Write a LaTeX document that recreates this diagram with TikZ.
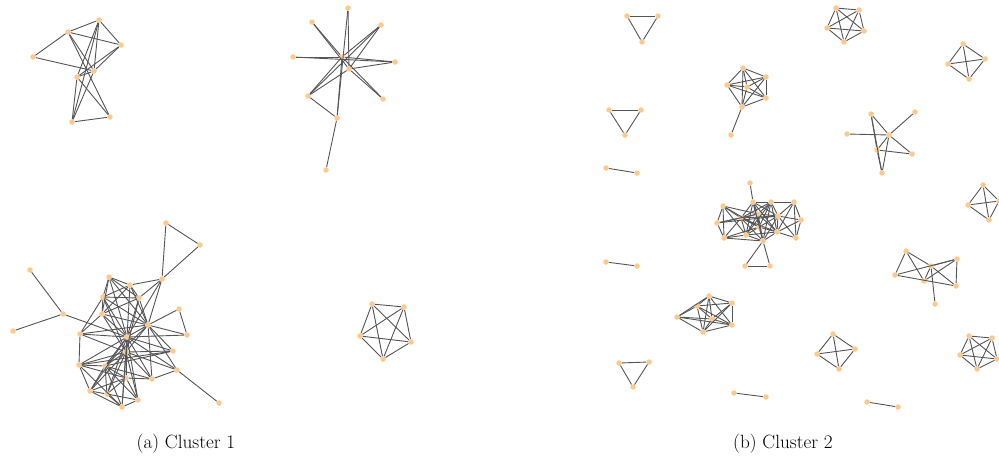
\documentclass[tikz,border=0pt]{standalone}
\usepackage{fontspec}
\begin{document}
\begin{tikzpicture}[x=1pt,y=-1pt,
  vtx/.style={circle,fill=vfill,draw=none,inner sep=0pt,minimum size=5.5pt},
  edge/.style={draw=edgecol,line width=0.9pt},
  captext/.style={font=\fontsize{19.2}{22}\selectfont,inner sep=0pt,anchor=base}]
\definecolor{vfill}{RGB}{255,201,142}
\definecolor{edgecol}{RGB}{85,85,85}
\useasboundingbox (0,0) rectangle (999,474);
% ---------------- Cluster 1 ----------------
\foreach \n/\x/\y in {a1/99/20,a2/68/32,a3/121/45,a4/33/57,a5/94/71,a6/77/77,a7/110/117,a8/72/122,
  b1/348/8,b2/312/22,b3/381/25,b4/342/57,b5/395/62,b6/349/69,b7/308/96,b8/383/99,b9/337/118,b10/326/170,bl/293/57,
  e1/372/304,e2/404/307,e3/360/336,e4/411/342,e5/383/359,
  c0/13/331,c1/30/270,c2/63/314,t1/166/223,t2/200/245,
  d1/109/277,d2/130/285,d3/162/279,d4/103/297,d5/139/298,d7/102/314,d8/179/309,d9/148/325,d10/80/334,
  d11/187/335,d12/127/337,d13/126/352,d14/173/351,d15/79/365,d16/105/366,d17/177/370,d18/126/378,
  d19/152/379,d20/90/391,d21/107/394,d22/138/400,d23/122/407,d24/219/403}
  \node[vtx] (\n) at (\x,\y) {};
\foreach \a/\b in {a1/a2,a1/a3,a2/a3,a2/a4,a4/a5,a1/a5,a1/a6,a3/a5,a3/a6,a2/a7,a2/a5,a5/a6,a5/a8,a6/a7,a6/a8,a7/a8,a1/a8,
  b1/b6,b1/b9,b2/b4,b4/b8,b2/b6,b3/b4,b3/b7,b3/b6,b5/b4,b5/b6,bl/b4,bl/b5,b6/b7,b6/b8,b7/b4,b7/b9,b4/b9,b9/b10,
  e1/e2,e1/e3,e1/e4,e1/e5,e2/e3,e2/e4,e2/e5,e3/e4,e3/e5,e4/e5,
  c1/c2,c0/c2,c2/d12,t1/t2,t1/d3,t2/d3,
  d1/d2,d1/d4,d1/d5,d1/d12,d1/d9,d1/d7,d2/d3,d2/d4,d2/d5,d2/d12,d2/d9,d2/d7,d3/d9,d3/d12,d3/d5,
  d4/d5,d4/d7,d4/d10,d4/d12,d4/d13,d4/d9,d5/d9,d5/d12,d5/d13,d5/d7,d7/d10,d7/d12,d7/d9,d7/d13,
  d8/d9,d8/d11,d9/d11,d9/d12,d9/d13,d9/d14,d9/d17,d9/d19,d9/d16,d9/d10,d10/d12,d10/d13,d10/d15,
  d11/d12,d12/d13,d12/d14,d12/d15,d12/d16,d12/d18,d12/d19,d12/d20,d12/d21,d12/d22,d12/d23,d12/d17,
  d13/d14,d13/d15,d13/d16,d13/d18,d13/d19,d13/d20,d13/d21,d13/d22,d13/d23,d14/d15,d14/d16,
  d15/d16,d15/d20,d15/d18,d15/d23,d16/d18,d16/d20,d16/d21,d16/d22,d16/d23,d16/d19,
  d17/d24,d17/d19,d17/d13,d18/d19,d18/d21,d18/d20,d18/d22,d20/d21,d20/d23,d21/d23,d21/d22,d22/d23}
  \draw[edge] (\a) -- (\b);
% ---------------- Cluster 2 ----------------
\foreach \n/\x/\y in {f1/627/16,f2/658/16,f3/642/42,g1/609/110,g2/641/110,g3/625/135,
  h1/743/68,h2/766/77,h3/727/85,h4/747/87,h5/766/98,h6/742/107,h7/731/135,
  i1/836/8,i2/859/10,i3/827/28,i4/864/31,i5/844/42,
  j1/963/44,j2/985/59,j3/948/64,j4/969/79,
  s1/915/112,s2/871/114,s3/847/134,s4/889/135,s5/877/150,s6/912/154,s7/882/173,
  p1/606/168,p2/637/173,q1/606/262,q2/637/266,
  r1/750/183,r2/753/202,r3/771/202,r4/794/202,r5/723/206,r6/758/214,r7/778/216,r8/741/218,r9/801/220,
  r10/717/223,r11/759/227,r12/777/232,r13/746/235,r14/724/238,r15/796/238,r16/763/241,r17/745/266,r18/770/266,
  k1/983/185,k2/999/201,k3/968/205,k4/989/220,
  u1/906/251,u2/957/259,u3/931/266,u4/895/275,u5/924/281,u6/956/286,u7/935/304,
  v1/709/296,v2/697/306,v3/732/303,v4/677/317,v5/712/319,v6/732/325,v7/703/332,
  w1/833/334,w2/817/354,w3/855/349,w4/839/369,
  x1/734/393,x2/766/397,
  y1/969/336,y2/992/338,y3/960/355,y4/997/359,y5/977/369,
  z1/867/402,z2/898/407,
  o1/619/363,o2/649/362,o3/633/387}
  \node[vtx] (\n) at (\x,\y) {};
\foreach \a/\b in {f1/f2,f1/f3,f2/f3,g1/g2,g1/g3,g2/g3,
  h1/h2,h1/h3,h1/h4,h1/h5,h1/h6,h2/h3,h2/h4,h2/h5,h2/h6,h3/h4,h3/h5,h3/h6,h4/h5,h4/h6,h5/h6,h6/h7,
  i1/i2,i1/i3,i1/i4,i1/i5,i2/i3,i2/i4,i2/i5,i3/i4,i3/i5,i4/i5,
  j1/j2,j1/j3,j1/j4,j2/j3,j2/j4,j3/j4,
  s4/s1,s4/s3,s2/s4,s2/s5,s2/s7,s4/s6,s4/s5,s4/s7,s5/s6,s5/s7,
  p1/p2,q1/q2,
  r1/r2,r17/r16,r18/r16,r17/r18,
  r5/r10,r5/r14,r10/r14,r5/r8,r10/r8,r14/r8,r5/r13,r14/r13,r10/r6,r5/r11,r14/r11,
  r4/r9,r9/r15,r4/r15,r4/r7,r9/r7,r15/r12,r9/r12,r4/r3,r15/r7,r4/r12,
  r2/r3,r2/r6,r2/r7,r2/r8,r2/r11,r2/r12,r2/r13,r2/r16,r3/r6,r3/r7,r3/r8,r3/r11,r3/r12,r3/r13,r3/r16,
  r6/r7,r6/r8,r6/r11,r6/r12,r6/r13,r6/r16,r7/r8,r7/r11,r7/r12,r7/r16,r8/r11,r8/r12,r8/r13,r8/r16,
  r11/r12,r11/r13,r11/r16,r12/r16,r13/r16,r12/r13,r5/r6,r10/r7,r14/r16,
  k1/k2,k1/k3,k1/k4,k2/k3,k2/k4,k3/k4,
  u1/u4,u1/u3,u1/u5,u4/u2,u4/u6,u3/u2,u3/u6,u3/u5,u3/u7,u5/u2,u2/u6,
  v1/v2,v1/v3,v1/v4,v1/v5,v1/v6,v1/v7,v2/v3,v2/v4,v2/v5,v2/v6,v2/v7,v3/v5,v3/v6,v3/v7,
  v4/v5,v4/v6,v4/v7,v5/v6,v5/v7,v6/v7,
  w1/w2,w1/w3,w1/w4,w2/w3,w2/w4,w3/w4,x1/x2,
  y1/y2,y1/y3,y1/y4,y1/y5,y2/y3,y2/y4,y2/y5,y3/y4,y3/y5,y4/y5,
  z1/z2,o1/o2,o1/o3,o2/o3}
  \draw[edge] (\a) -- (\b);
% ---------------- Captions ----------------
\node[captext] (capa) at (186,448) {(a) Cluster 1};
\node[captext] (capb) at (783,448) {(b) Cluster 2};
\end{tikzpicture}
\end{document}
